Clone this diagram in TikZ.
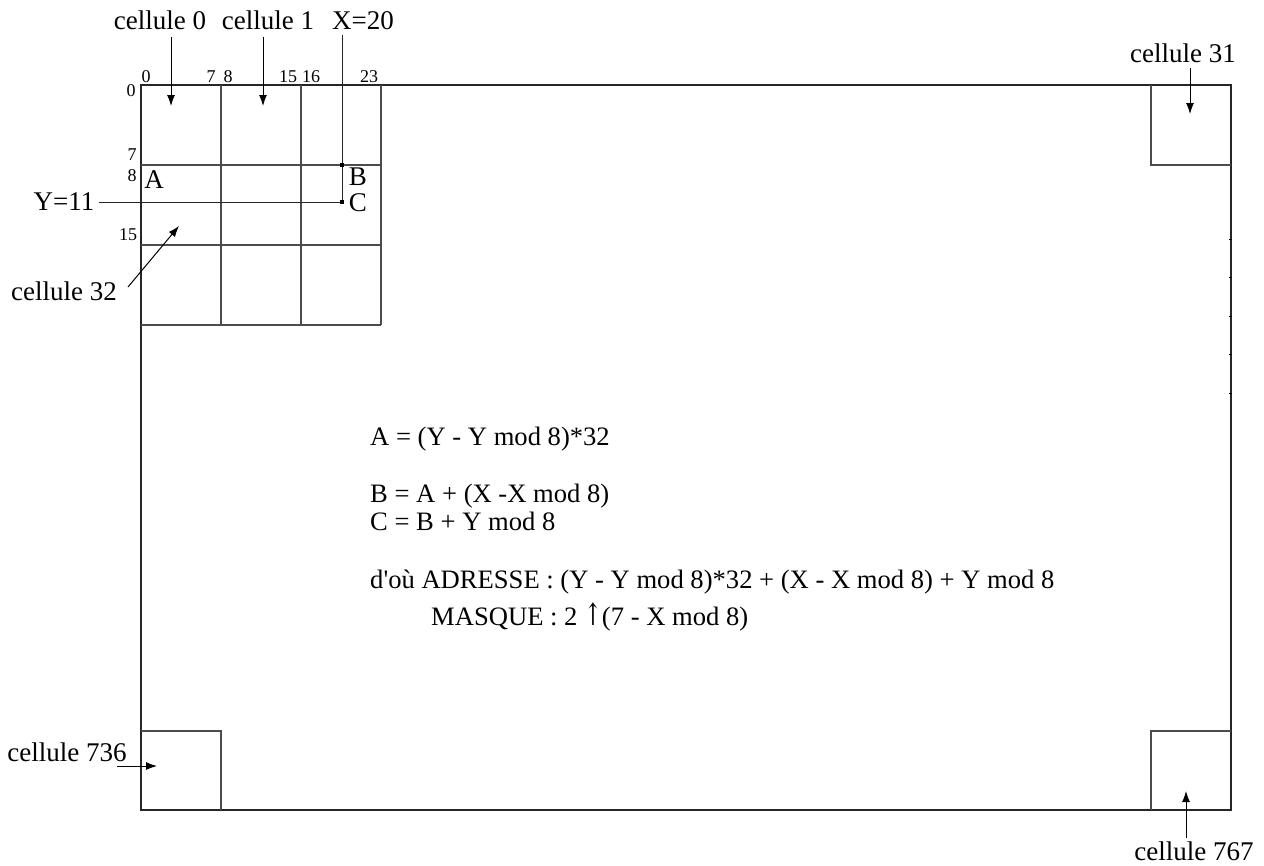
\documentclass[tikz,border=0pt]{standalone}
\usepackage{fontspec}
\setmainfont{Liberation Serif}
\newfontfamily\plainserif{Liberation Serif}
\newfontfamily\arrowfont{DejaVu Serif}
\usetikzlibrary{arrows.meta}
\begin{document}
\begin{tikzpicture}[x=1pt,y=-1pt,
  frame/.style={line width=1.1pt, draw=black!85},
  gridline/.style={line width=1.1pt, draw=black!70},
  lab/.style={inner sep=0pt, anchor=base, font=\fontsize{27}{32}\selectfont},
  num/.style={inner sep=0pt, anchor=base, font=\fontsize{18}{21}\selectfont},
  formula/.style={inner sep=0pt, anchor=base west, font=\plainserif\fontsize{26.6}{31}\selectfont},
  ptr/.style={line width=1pt, -{Latex[length=11pt,width=8pt]}},
  guide/.style={line width=1pt, draw=black!85},
  dotmark/.style={fill=black, minimum size=4pt, inner sep=0pt}
]
\useasboundingbox (0,0) rectangle (1264,865);
% outer frame
\draw[frame] (141,85) rectangle (1231,810);
% grid
\draw[gridline] (221,85) -- (221,325);
\draw[gridline] (301,85) -- (301,325);
\draw[gridline] (381,85) -- (381,325);
\draw[gridline] (141,165) -- (382,165);
\draw[gridline] (141,245) -- (382,245);
\draw[gridline] (141,325) -- (381,325);
% corner cells
\draw[gridline] (1151,85) -- (1151,165) -- (1231,165);
\draw[gridline] (141,731) -- (221,731) -- (221,810);
\draw[gridline] (1231,731) -- (1151,731) -- (1151,810);
% small ticks on right edge
\foreach \yy in {239,277,316,354,393} \draw[line width=1pt] (1229,\yy) -- (1232,\yy);
% column numbers
\node[num] (c0) at (146,82) {0};
\node[num] (c7) at (211,82) {7};
\node[num] (c8) at (228,82) {8};
\node[num] (c15) at (288,82) {15};
\node[num] (c16) at (311,82) {16};
\node[num] (c23) at (369,82) {23};
% row numbers
\node[num] (r0) at (131,96) {0};
\node[num] (r7) at (132,160) {7};
\node[num] (r8) at (132,181) {8};
\node[num] (r15) at (128,240) {15};
% labels
\node[lab] (l0) at (160,29) {cellule 0};
\node[lab] (l1) at (268,29) {cellule 1};
\node[lab] (lx) at (363,29) {X=20};
\node[lab] (l31) at (1183,62) {cellule 31};
\node[lab] (ly) at (64,210) {Y=11};
\node[lab] (l32) at (64,300) {cellule 32};
\node[lab] (l736) at (67,761) {cellule 736};
\node[lab] (l767) at (1194,860) {cellule 767};
\node[lab] (pA) at (154,188) {A};
\node[lab] (pB) at (358,185) {B};
\node[lab] (pC) at (358,211) {C};
% arrow coordinates
\coordinate (a0s) at (171,37);  \coordinate (a0e) at (171,106);
\coordinate (a1s) at (263,37);  \coordinate (a1e) at (263,106);
\coordinate (a31s) at (1190,68); \coordinate (a31e) at (1190,114);
\coordinate (a32s) at (128,287); \coordinate (a32e) at (179,226);
\coordinate (a736s) at (117,766); \coordinate (a736e) at (157,766);
\coordinate (a767s) at (1186,838); \coordinate (a767e) at (1186,791);
\draw[ptr] (a0s) -- (a0e);
\draw[ptr] (a1s) -- (a1e);
\draw[ptr] (a31s) -- (a31e);
\draw[ptr] (a32s) -- (a32e);
\draw[ptr] (a736s) -- (a736e);
\draw[ptr] (a767s) -- (a767e);
% X and Y guides
\coordinate (xtop) at (342,35);
\coordinate (ptB) at (342,165);
\coordinate (ptC) at (342,202);
\coordinate (yleft) at (99,202);
\draw[guide] (xtop) -- (ptC);
\draw[guide] (yleft) -- (ptC);
\node[dotmark] (mB) at (ptB) {};
\node[dotmark] (mC) at (ptC) {};
% formulas
\node[formula] (f1) at (370,445) {A = (Y - Y mod 8)*32};
\node[formula] (f2) at (370,502) {B = A + (X -X mod 8)};
\node[formula] (f3) at (370,530) {C = B + Y mod 8};
\node[formula] (f4) at (370,588) {d'où ADRESSE : (Y - Y mod 8)*32 + (X - X mod 8) + Y mod 8};
\node[formula] (f5) at (431,625) {MASQUE : 2 {\arrowfont\scalebox{0.8}[1.15]{↑}}(7 - X mod 8)};
\end{tikzpicture}
\end{document}
